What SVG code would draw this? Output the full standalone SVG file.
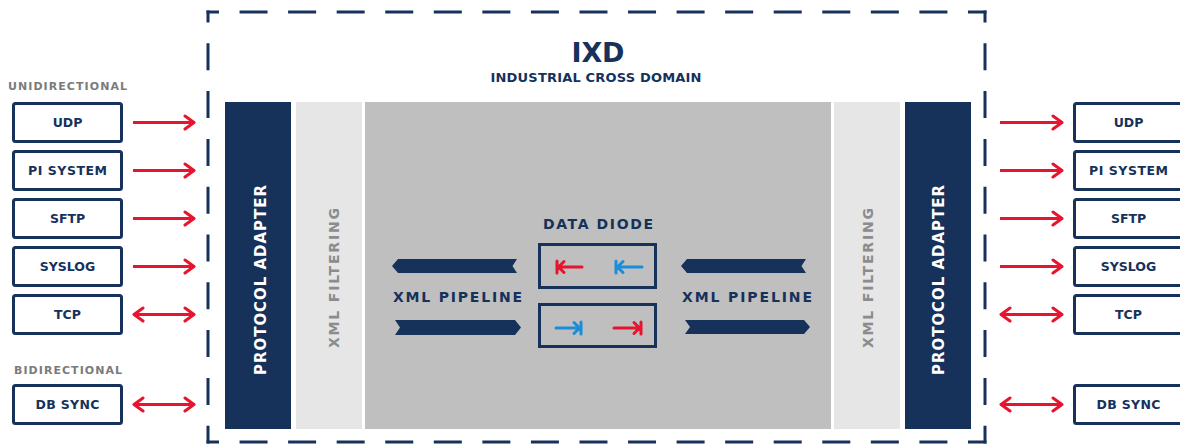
<svg xmlns="http://www.w3.org/2000/svg" width="1180" height="444" viewBox="0 0 1180 444">
  <defs>
    <style>
      .t { font-family: "DejaVu Sans", "Liberation Sans", sans-serif; font-weight: bold; }
      .navy { fill: #16315a; }
      .box { fill: #ffffff; stroke: #16315a; stroke-width: 3; }
      .lbl { font-size: 12.5px; fill: #16315a; text-anchor: middle; }
      .cap { font-size: 11px; fill: #7a7b7b; }
      .dash { stroke: #16315a; stroke-width: 3; fill: none; }
      .conn { stroke: #e8132e; stroke-width: 3; fill: none; }
      .pa { fill: #16315a; }
      .flt { fill: #e5e6e5; }
      .core { fill: #bebfbe; }
      .vt-pa { font-size: 15px; fill: #ffffff; text-anchor: middle; }
      .vt-flt { font-size: 14px; fill: #8b8c8b; text-anchor: middle; }
      .mid { font-size: 14px; fill: #16315a; text-anchor: middle; }
      .dio { fill: none; stroke: #16315a; stroke-width: 3; }
      .red { stroke: #e8132e; stroke-width: 3; fill: none; stroke-linecap: round; stroke-linejoin: round; }
      .blue { stroke: #1b8ddb; stroke-width: 3; fill: none; stroke-linecap: round; stroke-linejoin: round; }
    </style>
    <marker id="ah" markerUnits="userSpaceOnUse" viewBox="0 0 18 18" markerWidth="18" markerHeight="18" refX="14" refY="9" orient="auto-start-reverse">
      <path d="M5,2.5 L14,9 L5,15.5" fill="none" stroke="#e8132e" stroke-width="3" stroke-linecap="round" stroke-linejoin="round"/>
    </marker>
  </defs>

  <!-- dashed IXD boundary -->
  <g id="boundary">
    <line class="dash" x1="206.5" y1="12" x2="986.5" y2="12" stroke-dasharray="28 20.56" stroke-dashoffset="15.5"/>
    <line class="dash" x1="206.5" y1="442" x2="986.5" y2="442" stroke-dasharray="28 20.56" stroke-dashoffset="15.5"/>
    <line class="dash" x1="208" y1="10.5" x2="208" y2="443.5" stroke-dasharray="27 20.8" stroke-dashoffset="15"/>
    <line class="dash" x1="985" y1="10.5" x2="985" y2="443.5" stroke-dasharray="27 20.8" stroke-dashoffset="15"/>
  </g>

  <g id="title">
    <text class="t navy" x="598" y="62" font-size="27" text-anchor="middle" textLength="53">IXD</text>
    <text class="t navy" x="596" y="82" font-size="13" text-anchor="middle" textLength="211">INDUSTRIAL CROSS DOMAIN</text>
  </g>

  <!-- left side -->
  <text class="t cap" x="8" y="90" textLength="119">UNIDIRECTIONAL</text>
  <text class="t cap" x="14" y="374" textLength="108">BIDIRECTIONAL</text>

  <g id="l-udp"><rect class="box" x="13.5" y="103.5" width="108" height="38" rx="2"/><text class="t lbl" x="67.5" y="127">UDP</text></g>
  <g id="l-pi"><rect class="box" x="13.5" y="151.5" width="108" height="38" rx="2"/><text class="t lbl" x="67.5" y="175" textLength="79">PI SYSTEM</text></g>
  <g id="l-sftp"><rect class="box" x="13.5" y="199.5" width="108" height="38" rx="2"/><text class="t lbl" x="67.5" y="223">SFTP</text></g>
  <g id="l-syslog"><rect class="box" x="13.5" y="247.5" width="108" height="38" rx="2"/><text class="t lbl" x="67.5" y="271">SYSLOG</text></g>
  <g id="l-tcp"><rect class="box" x="13.5" y="295.5" width="108" height="38" rx="2"/><text class="t lbl" x="67.5" y="319">TCP</text></g>
  <g id="l-dbsync"><rect class="box" x="13.5" y="385.5" width="108" height="38" rx="2"/><text class="t lbl" x="67.5" y="409" textLength="64">DB SYNC</text></g>

  <!-- right side -->
  <g id="r-udp"><rect class="box" x="1074.5" y="103.5" width="108" height="38" rx="2"/><text class="t lbl" x="1128.5" y="127">UDP</text></g>
  <g id="r-pi"><rect class="box" x="1074.5" y="151.5" width="108" height="38" rx="2"/><text class="t lbl" x="1128.5" y="175" textLength="79">PI SYSTEM</text></g>
  <g id="r-sftp"><rect class="box" x="1074.5" y="199.5" width="108" height="38" rx="2"/><text class="t lbl" x="1128.5" y="223">SFTP</text></g>
  <g id="r-syslog"><rect class="box" x="1074.5" y="247.5" width="108" height="38" rx="2"/><text class="t lbl" x="1128.5" y="271">SYSLOG</text></g>
  <g id="r-tcp"><rect class="box" x="1074.5" y="295.5" width="108" height="38" rx="2"/><text class="t lbl" x="1128.5" y="319">TCP</text></g>
  <g id="r-dbsync"><rect class="box" x="1074.5" y="385.5" width="108" height="38" rx="2"/><text class="t lbl" x="1128.5" y="409" textLength="64">DB SYNC</text></g>

  <!-- core blocks -->
  <g id="pa-left"><rect class="pa" x="225" y="102" width="66" height="327"/><text class="t vt-pa" transform="translate(266,280) rotate(-90)" textLength="190">PROTOCOL ADAPTER</text></g>
  <g id="flt-left"><rect class="flt" x="296" y="102" width="66" height="327"/><text class="t vt-flt" transform="translate(339,278) rotate(-90)" textLength="140">XML FILTERING</text></g>
  <g id="core"><rect class="core" x="365" y="102" width="466" height="327"/></g>
  <g id="flt-right"><rect class="flt" x="834" y="102" width="66" height="327"/><text class="t vt-flt" transform="translate(873,278) rotate(-90)" textLength="140">XML FILTERING</text></g>
  <g id="pa-right"><rect class="pa" x="905" y="102" width="66" height="327"/><text class="t vt-pa" transform="translate(944,280) rotate(-90)" textLength="190">PROTOCOL ADAPTER</text></g>

  <!-- pipelines -->
  <g id="pipeline-left">
    <polygon class="navy" points="392,266 398,259 517,259 512.5,266 517,273 398,273"/>
    <polygon class="navy" points="395,320 515,320 521,327.5 515,335 395,335 400,327.5"/>
    <text class="t mid" x="457.5" y="302" textLength="129">XML PIPELINE</text>
  </g>
  <g id="pipeline-right">
    <polygon class="navy" points="681,266 687,259 806,259 801.5,266 806,273 687,273"/>
    <polygon class="navy" points="685,320 804,320 810,327 804,334 685,334 690,327"/>
    <text class="t mid" x="747" y="302" textLength="130">XML PIPELINE</text>
  </g>

  <!-- data diode -->
  <g id="data-diode">
    <text class="t mid" x="598" y="229" textLength="110">DATA DIODE</text>
    <rect class="dio" x="539.5" y="244.5" width="116" height="43"/>
    <rect class="dio" x="539.5" y="304.5" width="116" height="42"/>
    <path class="red" d="M557,261 V273 M559,267 H582 M564,261.5 L558.5,267 L564,272.5"/>
    <path class="blue" d="M616,261 V273 M618,267 H642 M623,261.5 L617.5,267 L623,272.5"/>
    <path class="blue" d="M581,322 V334 M556,328 H579 M574,322.5 L579.5,328 L574,333.5"/>
    <path class="red" d="M641,322 V334 M614,328 H639 M634,322.5 L639.5,328 L634,333.5"/>
  </g>

  <!-- connectors -->
  <g id="connectors">
    <line class="conn" x1="133" y1="122.5" x2="194" y2="122.5" marker-end="url(#ah)"/>
    <line class="conn" x1="133" y1="170.5" x2="194" y2="170.5" marker-end="url(#ah)"/>
    <line class="conn" x1="133" y1="218.5" x2="194" y2="218.5" marker-end="url(#ah)"/>
    <line class="conn" x1="133" y1="266.5" x2="194" y2="266.5" marker-end="url(#ah)"/>
    <line class="conn" x1="134" y1="314.5" x2="194" y2="314.5" marker-start="url(#ah)" marker-end="url(#ah)"/>
    <line class="conn" x1="134" y1="404.5" x2="194" y2="404.5" marker-start="url(#ah)" marker-end="url(#ah)"/>

    <line class="conn" x1="1000" y1="122.5" x2="1062" y2="122.5" marker-end="url(#ah)"/>
    <line class="conn" x1="1000" y1="170.5" x2="1062" y2="170.5" marker-end="url(#ah)"/>
    <line class="conn" x1="1000" y1="218.5" x2="1062" y2="218.5" marker-end="url(#ah)"/>
    <line class="conn" x1="1000" y1="266.5" x2="1062" y2="266.5" marker-end="url(#ah)"/>
    <line class="conn" x1="1001" y1="314.5" x2="1062" y2="314.5" marker-start="url(#ah)" marker-end="url(#ah)"/>
    <line class="conn" x1="1001" y1="404.5" x2="1062" y2="404.5" marker-start="url(#ah)" marker-end="url(#ah)"/>
  </g>
</svg>
